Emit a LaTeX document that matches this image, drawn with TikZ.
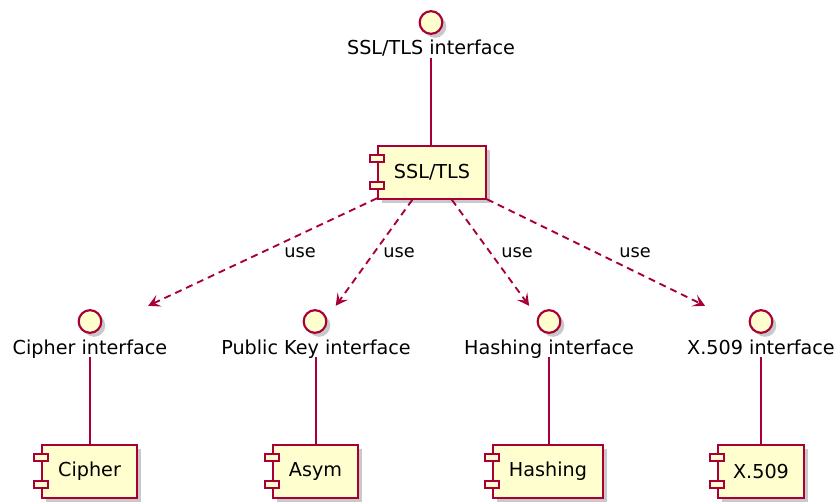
\documentclass[tikz,border=0pt]{standalone}
\usepackage{fontspec}
\setmainfont{DejaVu Sans}
\usetikzlibrary{arrows.meta,shadows,fit,calc}
\definecolor{pborder}{HTML}{A80036}
\definecolor{pfill}{HTML}{FEFECE}
\begin{document}
\begin{tikzpicture}[x=0.75pt,y=-0.75pt,
  shad/.style={drop shadow={shadow xshift=3pt,shadow yshift=-3pt,opacity=0.3,fill=black!70}},
  comp/.style={draw=pborder,fill=pfill,line width=1.4pt,minimum height=39.5pt,inner sep=0pt,
    font=\fontsize{14.4}{16}\selectfont,shad},
  bar/.style={draw=pborder,fill=pfill,line width=1.4pt},
  iface/.style={circle,draw=pborder,fill=pfill,line width=1.6pt,minimum size=17pt,inner sep=0pt,shad},
  ilabel/.style={font=\fontsize{14.4}{16}\selectfont,inner sep=0pt,text depth=2.25pt,anchor=base},
  ibox/.style={inner sep=2.25pt},
  lbl/.style={font=\fontsize{13.3}{15}\selectfont,inner sep=0pt},
  link/.style={draw=pborder,line width=1.4pt},
  dep/.style={draw=pborder,line width=1.4pt,dash pattern=on 5.25pt off 3.75pt,
    -{Stealth[length=9pt,width=9.5pt,inset=4pt]}}
]
\useasboundingbox (0,0) rectangle (837,503);

% top interface and component
\node[iface] (sslc) at (431,22.5) {};
\node[ilabel] (ssll) at (431,54.5) {SSL/TLS interface};
\node[comp,minimum width=81pt] (ssl) at (432,172.5) {SSL/TLS};

% lower interfaces
\node[iface] (cic) at (90,321.5) {};
\node[ilabel] (cil) at (90,354) {Cipher interface};
\node[ibox,fit=(cic)(cil)] (cif) {};
\node[iface] (pkc) at (315,321.5) {};
\node[ilabel] (pkl) at (316,354) {Public Key interface};
\node[ibox,fit=(pkc)(pkl)] (pkf) {};
\node[iface] (hac) at (549,321.5) {};
\node[ilabel] (hal) at (549,354) {Hashing interface};
\node[ibox,fit=(hac)(hal)] (haf) {};
\node[iface] (xic) at (761,321.5) {};
\node[ilabel] (xil) at (761,354) {X.509 interface};
\node[ibox,fit=(xic)(xil)] (xif) {};

% lower components
\node[comp,minimum width=71.25pt] (cipher) at (89.5,471.5) {Cipher};
\node[comp,minimum width=63.75pt] (asym) at (315.5,471.5) {Asym};
\node[comp,minimum width=82.5pt] (hashing) at (548,471.5) {Hashing};
\node[comp,minimum width=64.5pt] (xfive) at (761,471.5) {X.509};

% component bars
\foreach \n in {ssl,cipher,asym,hashing,xfive}{
  \draw[bar] ($(\n.north west)+(-7,10)$) rectangle ++(14,7);
  \draw[bar] ($(\n.north west)+(-7,37)$) rectangle ++(14,7);
}

% plain links
\draw[link] (ssll.south) -- (ssll.south |- ssl.north);
\draw[link] (cil.south) -- (cil.south |- cipher.north);
\draw[link] (pkl.south) -- (pkl.south |- asym.north);
\draw[link] (hal.south) -- (hal.south |- hashing.north);
\draw[link] (xil.south) -- (xil.south |- xfive.north);

% dependencies
\draw[dep] (ssl) -- (cif);
\draw[dep] (ssl) -- (pkf);
\draw[dep] (ssl) -- (haf);
\draw[dep] (ssl) -- (xif);
\node[lbl] (u1) at (300,253) {use};
\node[lbl] (u2) at (399,253) {use};
\node[lbl] (u3) at (517,253) {use};
\node[lbl] (u4) at (635,253) {use};
\end{tikzpicture}
\end{document}
